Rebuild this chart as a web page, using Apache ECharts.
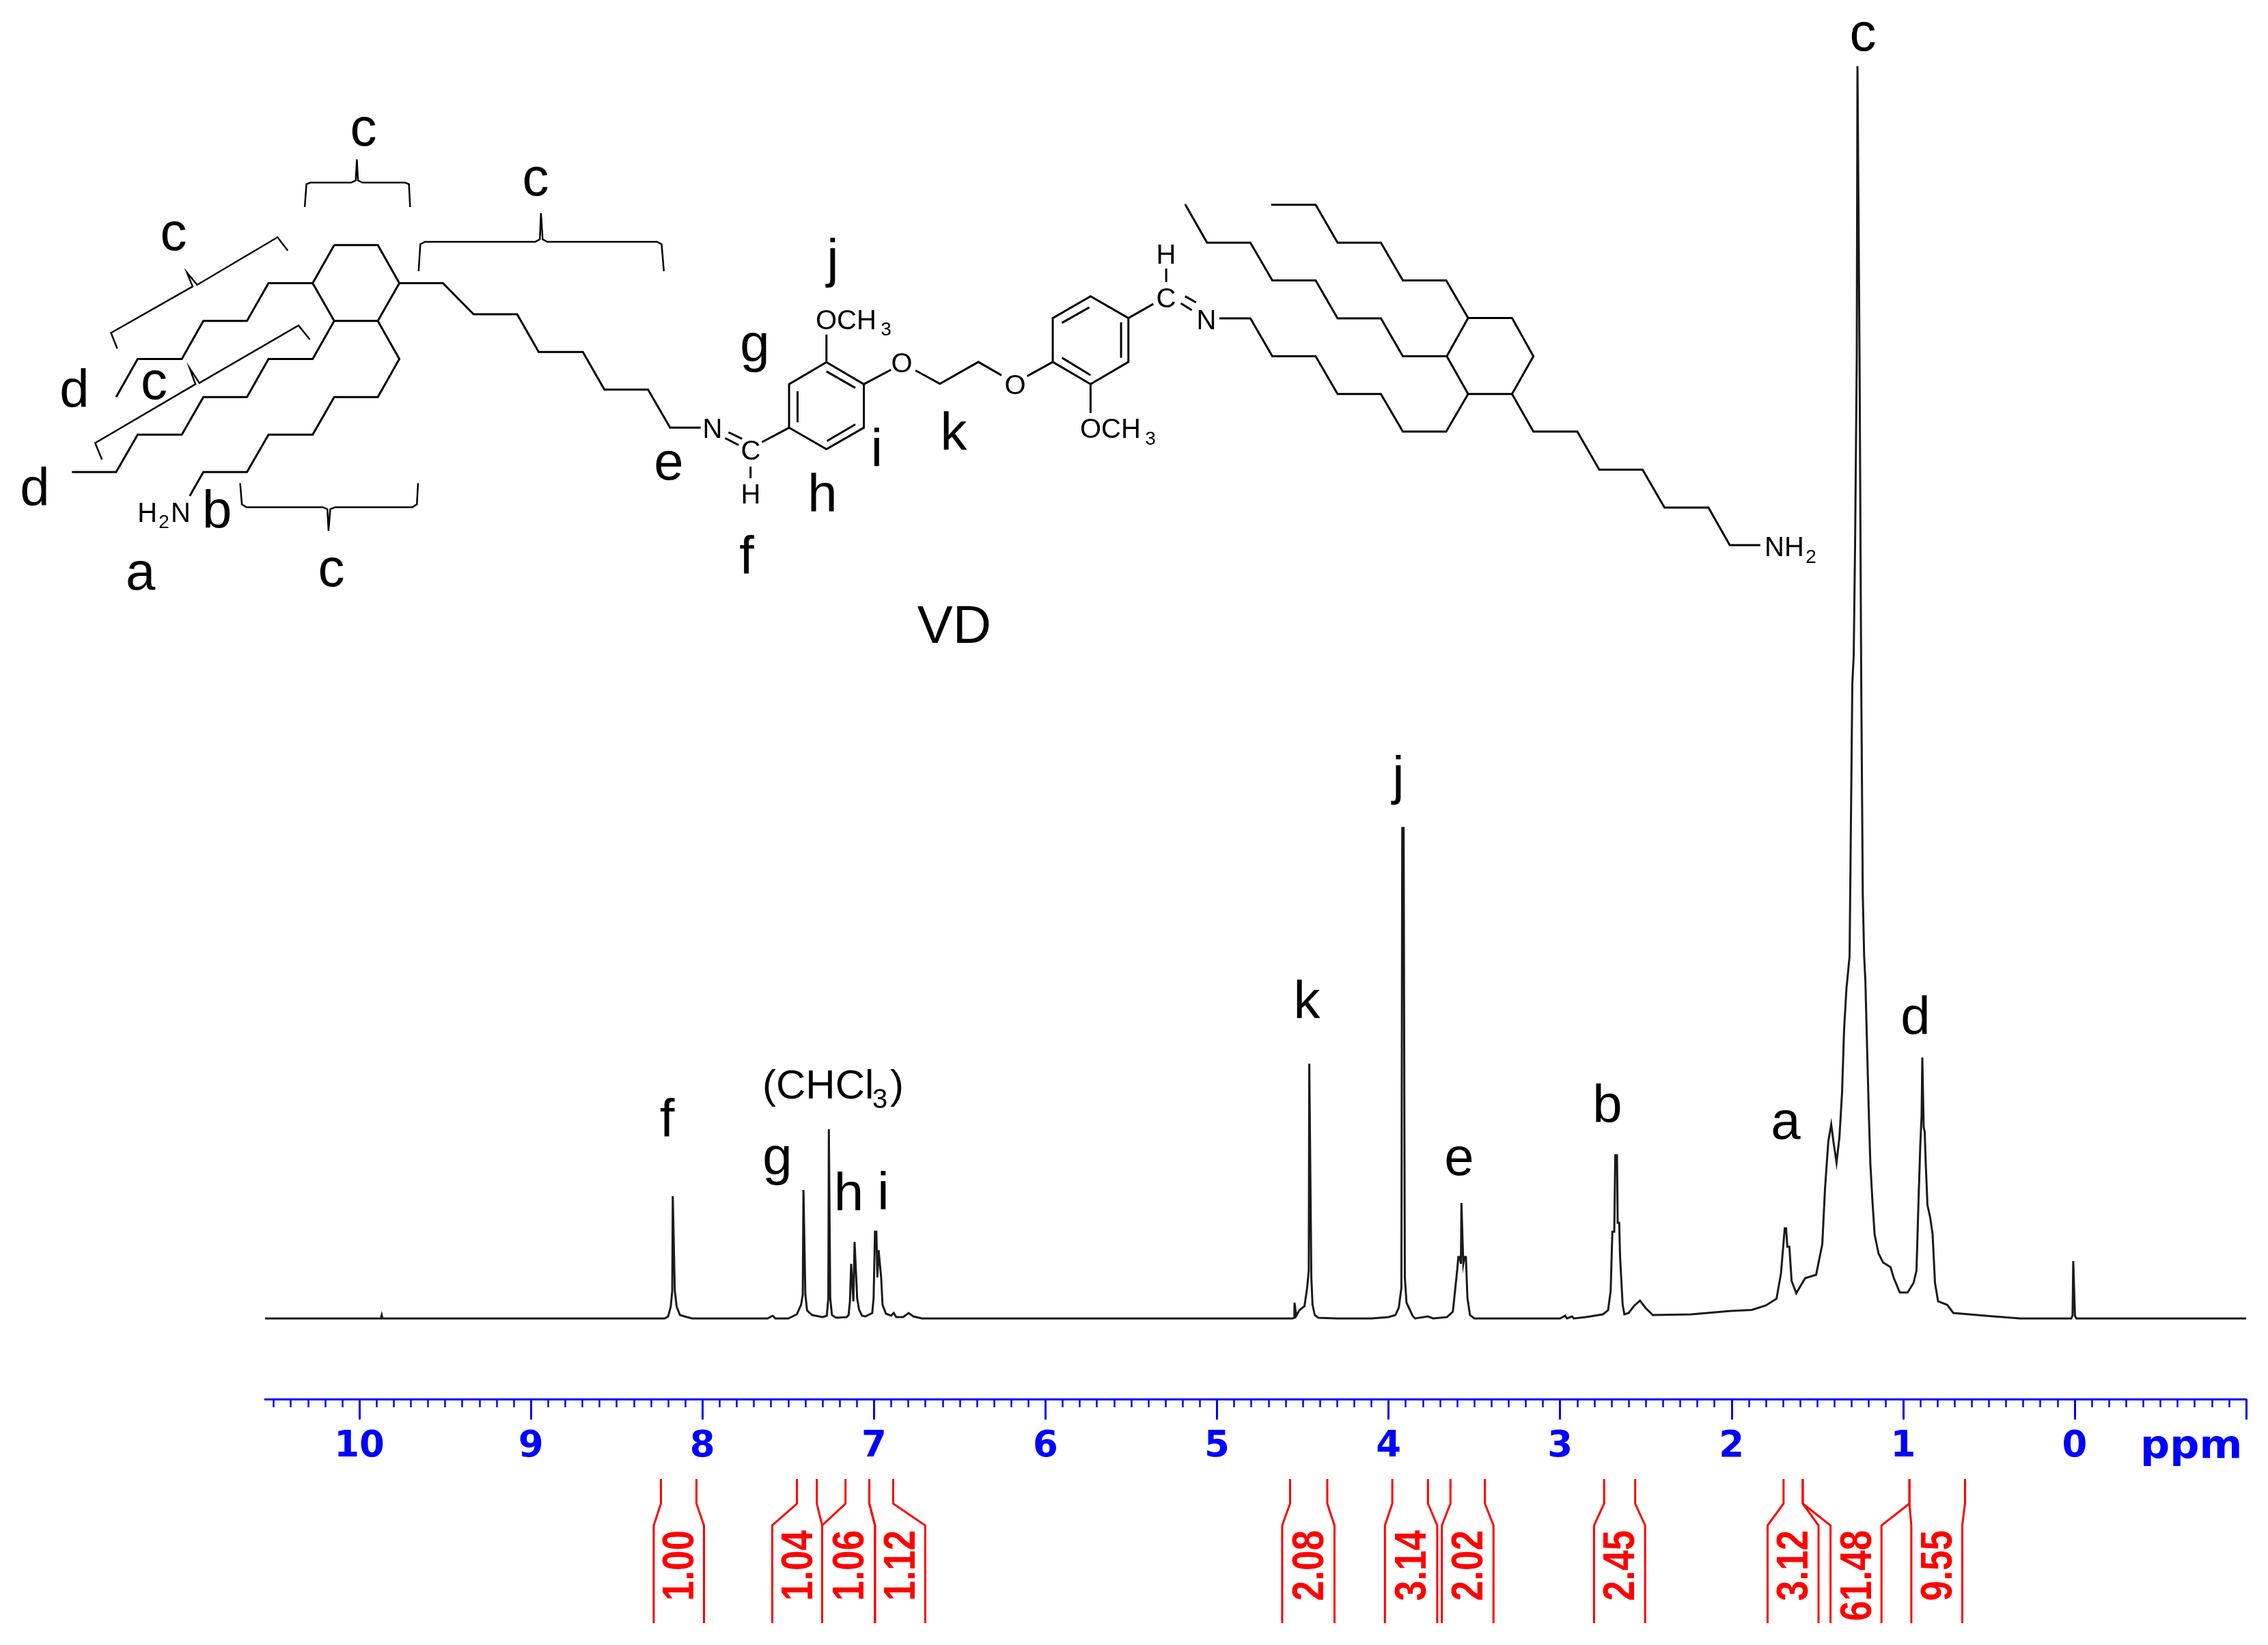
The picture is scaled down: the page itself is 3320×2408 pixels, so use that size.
<!doctype html>
<html>
    <head>
        <meta charset="utf-8">
        <style>
            html, body { margin: 0; background: #fff; }
            #main { width: 3320px; height: 2408px; }
        </style>
    </head>
    <body>
        <div id="main"></div>
        <script src="https://cdn.jsdelivr.net/npm/echarts@6/dist/echarts.min.js"></script>
        <script>
            // spectrum: [ppm, intensity], 1833 = top of peak c
            var aldehydeRegion = [[10.55, 0], [9.875, 0], [9.87, 5], [9.865, 0], [8.22, 0], [8.2, 3], [8.185, 17], [8.176, 40], [8.173, 179], [8.168, 179], [8.161, 40], [8.15, 17], [8.131, 5], [8.09, 2], [8.06, 0]];
            var aromaticRegion = [[7.62, 0], [7.59, 4], [7.575, 0], [7.5, 0], [7.45, 6], [7.425, 20], [7.415, 35], [7.411, 188], [7.405, 188], [7.4, 35], [7.39, 12], [7.375, 8], [7.36, 5], [7.3, 2], [7.275, 4], [7.266, 30], [7.263, 277], [7.259, 277], [7.255, 30], [7.245, 5], [7.22, 1], [7.16, 2], [7.148, 5], [7.14, 25], [7.133, 80], [7.126, 80], [7.12, 25], [7.113, 112], [7.106, 112], [7.098, 30], [7.087, 13], [7.07, 4], [7.05, 3], [7.01, 8], [7.002, 30], [6.994, 127], [6.986, 127], [6.98, 60], [6.973, 100], [6.966, 100], [6.958, 60], [6.95, 20], [6.93, 7], [6.9, 4], [6.885, 8], [6.87, 2], [6.83, 2], [6.798, 8], [6.77, 3], [6.72, 0]];
            var etherRegion = [[4.56, 0], [4.549, 1], [4.548, 23], [4.542, 23], [4.538, 4], [4.52, 12], [4.49, 18], [4.475, 44], [4.465, 70], [4.462, 373], [4.455, 373], [4.45, 60], [4.443, 20], [4.43, 5], [4.41, 1], [4.3, 0], [4.1, 0], [4.0, 2], [3.96, 5], [3.94, 16], [3.925, 45], [3.92, 718], [3.912, 718], [3.905, 60], [3.895, 23], [3.88, 15], [3.86, 4], [3.845, 0], [3.77, 3], [3.74, 0], [3.66, 2], [3.625, 10], [3.6, 70], [3.593, 90], [3.585, 90], [3.578, 80], [3.575, 169], [3.568, 169], [3.564, 80], [3.557, 90], [3.549, 90], [3.54, 30], [3.525, 5], [3.5, 0]];
            var amineRegion = [[3, 0], [2.97, 4], [2.96, 0], [2.93, 3], [2.92, 0], [2.85, 2], [2.75, 6], [2.72, 12], [2.705, 40], [2.695, 127], [2.684, 127], [2.678, 239], [2.668, 239], [2.664, 140], [2.655, 140], [2.65, 90], [2.643, 90], [2.635, 20], [2.625, 6], [2.6, 8], [2.57, 18], [2.534, 26], [2.5, 15], [2.459, 5], [2.236, 6], [2.005, 11], [1.882, 12.5], [1.8, 19], [1.738, 29]];
            var methyleneRegion = [[1.712, 66], [1.69, 132], [1.682, 132], [1.675, 105], [1.663, 105], [1.65, 55], [1.623, 37], [1.571, 59], [1.507, 64], [1.471, 109], [1.455, 191], [1.436, 259], [1.419, 284], [1.404, 255], [1.388, 228], [1.371, 266], [1.356, 330], [1.344, 423], [1.33, 484], [1.312, 530], [1.296, 930], [1.288, 970], [1.28, 1130], [1.27, 1410], [1.266, 1833], [1.259, 1833], [1.254, 1410], [1.244, 930], [1.235, 620], [1.227, 530], [1.22, 495], [1.209, 388], [1.2, 302], [1.191, 227], [1.179, 173], [1.166, 123], [1.143, 95], [1.117, 82], [1.073, 75], [1.054, 59], [1.019, 38], [0.974, 38], [0.939, 52], [0.922, 70]];
            var methylRegion = [[0.91, 173], [0.9, 252], [0.892, 298], [0.888, 382], [0.883, 382], [0.88, 280], [0.874, 273], [0.868, 227], [0.858, 166], [0.842, 148], [0.828, 123], [0.814, 52], [0.796, 25], [0.743, 20], [0.707, 8], [0.496, 3.5], [0.317, 0], [0.02, 0], [0.012, 4], [0.008, 84], [0.003, 84], [-0.002, 4], [-0.01, 0], [-1, 0]];

            var majorTicks = [-1, 0, 1, 2, 3, 4, 5, 6, 7, 8, 9, 10];
            var tickLabels = [0, 1, 2, 3, 4, 5, 6, 7, 8, 9, 10];
            var minorTicks = [];
            for (var t = -10; t <= 105; t++) {
                if (t % 10 !== 0) {
                    minorTicks.push(t / 10);
                }
            }

            // integration brackets: ppm of the two feet at the top and at the label
            var integralLabels = ['1.00', '1.04', '1.06', '1.12', '2.08', '3.14', '2.02', '2.45', '3.12', '61.48', '9.55'];
            var integralTops = [[8.242, 8.035], [7.449, 7.333], [7.166, 7.027], [7.027, 6.888], [4.574, 4.357], [3.978, 3.770], [3.639, 3.438], [2.743, 2.562], [1.697, 1.585], [1.585, 0.963], [0.963, 0.639]];
            var integralBottoms = [[8.284, 7.991], [7.593, 7.302], [7.302, 6.994], [6.994, 6.701], [4.620, 4.315], [4.021, 3.716], [3.689, 3.388], [2.802, 2.504], [1.790, 1.493], [1.423, 1.126], [0.952, 0.655]];

            var spectrum = [].concat(aldehydeRegion, aromaticRegion, etherRegion, amineRegion, methyleneRegion, methylRegion);

            var BLUE = '#0000ff';
            var RED = '#ff0000';
            var SANS = '"Liberation Sans", Arial, sans-serif';

            function left(pts) {
                return pts.map(function (p) { return [p[0] / 1.206, p[1] / 1.65]; });
            }
            function right(pts) {
                return pts.map(function (p) { return [1300 + p[0] / 1.12, 250 + p[1] / 2.412]; });
            }
            function stroke(points, width) {
                return {
                    type: 'polyline',
                    silent: true,
                    shape: { points: points },
                    style: { stroke: '#000', lineWidth: width || 3, fill: null, lineJoin: 'miter' }
                };
            }
            // x is the centre of the text (or its left edge with align), y its baseline
            function label(text, x, y, size, align) {
                return {
                    type: 'text',
                    silent: true,
                    x: x,
                    y: y - size * 0.29,
                    style: {
                        text: text,
                        fill: '#000',
                        fontFamily: SANS,
                        fontSize: size,
                        align: align || 'center',
                        verticalAlign: 'middle'
                    }
                };
            }

            var bonds = [
                left([[590, 592], [667, 592], [705, 684], [667, 775], [590, 775], [552, 684], [590, 592]]),
                left([[552, 684], [474, 684], [436, 775], [359, 775], [321, 867], [243, 867], [205, 959]]),
                left([[590, 775], [552, 867], [474, 867], [436, 959], [359, 959], [321, 1050], [243, 1050], [205, 1140], [127, 1140]]),
                left([[667, 775], [705, 867], [667, 959], [590, 959], [552, 1050], [474, 1050], [436, 1140], [359, 1140], [335, 1198]]),
                left([[705, 684], [782, 684], [836, 759], [913, 759], [951, 850], [1029, 850], [1067, 941], [1144, 941], [1183, 1033], [1237, 1033]]),
                left([[1286, 1044], [1310, 1060]]),
                left([[1280, 1058], [1304, 1075]]),
                left([[1325, 1127], [1325, 1155]]),
                left([[1345, 1068], [1393, 1033]]),
                left([[1393, 1033], [1393, 928], [1459, 875], [1525, 928], [1525, 1033], [1459, 1085], [1393, 1033]]),
                left([[1408, 1020], [1408, 945]]),
                left([[1459, 897], [1510, 937]]),
                left([[1510, 1025], [1460, 1065]]),
                left([[1459, 875], [1459, 808]]),
                left([[1525, 928], [1573, 893]]),
                right([[45, 705], [85, 752], [148, 675], [186, 722]]),
                right([[228, 725], [270, 675]]),
                right([[270, 675], [270, 520], [332, 443], [394, 520], [394, 675], [332, 753], [270, 675]]),
                right([[285, 537], [330, 482]]),
                right([[382, 535], [382, 660]]),
                right([[285, 660], [332, 722]]),
                right([[332, 753], [332, 855]]),
                right([[394, 520], [435, 470]]),
                right([[456, 345], [456, 393]]),
                right([[487, 443], [505, 465]]),
                right([[480, 468], [498, 492]]),
                right([[543, 521], [594, 521], [630, 655], [701, 655], [737, 788], [808, 788], [844, 921], [915, 921], [951, 788]]),
                right([[951, 520], [1023, 520], [1058, 655], [1023, 788], [951, 788], [916, 655], [951, 520]]),
                right([[951, 520], [915, 387], [844, 387], [808, 254], [737, 254], [701, 120], [628, 120]]),
                right([[916, 655], [844, 655], [808, 521], [737, 521], [701, 387], [630, 387], [594, 254], [523, 254], [487, 118]]),
                right([[1023, 788], [1058, 921], [1130, 921], [1166, 1055], [1237, 1055], [1273, 1189], [1345, 1189], [1380, 1322], [1430, 1322]])
            ];
            var braces = [
                left([[538, 500], [541, 445], [548, 441], [620, 441], [628, 436], [630, 385], [632, 436], [640, 441], [715, 441], [722, 445], [724, 500]]),
                left([[739, 655], [742, 590], [750, 584], [945, 584], [953, 578], [955, 515], [958, 578], [966, 584], [1160, 584], [1168, 590], [1172, 655]]),
                left([[207, 842], [196, 804], [340, 692], [330, 658], [348, 688], [490, 573], [508, 605]]),
                left([[180, 1110], [168, 1070], [345, 928], [335, 890], [352, 925], [527, 786], [547, 820]]),
                left([[424, 1167], [427, 1218], [435, 1225], [570, 1225], [578, 1230], [580, 1282], [583, 1230], [592, 1225], [728, 1225], [736, 1218], [738, 1167]])
            ];

            var graphics = bonds.map(function (b) { return stroke(b, 3); })
                .concat(braces.map(function (b) { return stroke(b, 2.5); }));

            // letters on the structure and above the peaks
            var LETTER = 78;
            [
                ['c', 532, 214], ['c', 784, 287], ['c', 254, 367], ['d', 109, 597], ['c', 225.5, 585],
                ['d', 51, 741], ['b', 317.6, 774], ['a', 205.6, 864], ['c', 485, 859], ['e', 979, 703],
                ['f', 1093, 841], ['j', 1219, 406], ['g', 1105, 530], ['h', 1204, 750], ['i', 1283.5, 684],
                ['k', 1396, 660], ['VD', 1397, 942],
                ['c', 2727, 75], ['j', 2047, 1163], ['k', 1913, 1492], ['e', 2136, 1721], ['b', 2353, 1644],
                ['a', 2614, 1668], ['d', 2804, 1515], ['f', 976.5, 1665], ['g', 1138, 1720], ['h', 1242.5, 1773], ['i', 1293, 1772]
            ].forEach(function (l) {
                graphics.push(label(l[0], l[1], l[2], LETTER));
            });
            graphics.push(label('(CHCl', 1116, 1609, 60, 'left'));
            graphics.push(label('3', 1288, 1623, 40));
            graphics.push(label(')', 1313, 1609, 60));

            // atoms
            [
                ['N', 1043, 642], ['C', 1099, 674], ['H', 1099, 738], ['O', 1320, 546], ['O', 1486, 577.5],
                ['C', 1707, 451], ['H', 1707, 387], ['N', 1766, 483], ['H', 215.6, 765], ['N', 264.5, 765]
            ].forEach(function (a) {
                graphics.push(label(a[0], a[1], a[2], 40));
            });
            graphics.push(label('2', 240, 773, 28));
            graphics.push(label('OCH', 1194, 483, 40, 'left'));
            graphics.push(label('3', 1297, 491, 28));
            graphics.push(label('OCH', 1581, 642, 40, 'left'));
            graphics.push(label('3', 1684, 651, 28));
            graphics.push(label('NH', 2583, 815, 40, 'left'));
            graphics.push(label('2', 2651, 824, 28));

            // unit next to the axis
            graphics.push({
                type: 'text',
                silent: true,
                x: 3133,
                y: 2119,
                scaleX: 1.06,
                style: {
                    text: 'ppm',
                    fill: BLUE,
                    fontFamily: '"DejaVu Sans"',
                    fontWeight: 'bold',
                    fontSize: 57,
                    align: 'left',
                    verticalAlign: 'middle'
                }
            });

            function renderIntegral(params, api) {
                var i = params.dataIndex;
                var TOP = 2165, BEND1 = 2201, BEND2 = 2233, BOTTOM = 2376;
                var a = api.coord([integralTops[i][0], 0])[0];
                var b = api.coord([integralTops[i][1], 0])[0];
                var c = api.coord([integralBottoms[i][0], 0])[0];
                var d = api.coord([integralBottoms[i][1], 0])[0];
                var lineStyle = { stroke: RED, lineWidth: 3, fill: null };
                return {
                    type: 'group',
                    children: [{
                        type: 'polyline',
                        shape: { points: [[a, TOP], [a, BEND1], [c, BEND2], [c, BOTTOM]] },
                        style: lineStyle
                    }, {
                        type: 'polyline',
                        shape: { points: [[b, TOP], [b, BEND1], [d, BEND2], [d, BOTTOM]] },
                        style: lineStyle
                    }, {
                        type: 'text',
                        x: (c + d) / 2 + 4,
                        y: 2240,
                        rotation: Math.PI / 2,
                        scaleX: 0.83,
                        style: {
                            text: integralLabels[i],
                            fill: RED,
                            fontFamily: SANS,
                            fontWeight: 'bold',
                            fontSize: 64,
                            align: 'right',
                            verticalAlign: 'middle'
                        }
                    }]
                };
            }

            var chart = echarts.init(document.getElementById('main'));
            chart.setOption({
                animation: false,
                backgroundColor: '#fff',
                grid: { left: 388, right: 32, top: 97, height: 1833 },
                xAxis: [{
                    type: 'value',
                    inverse: true,
                    min: -1,
                    max: 10.55,
                    position: 'bottom',
                    offset: 118,
                    splitLine: { show: false },
                    axisLine: { show: true, onZero: false, lineStyle: { color: BLUE, width: 3 } },
                    axisTick: { show: true, customValues: majorTicks, length: 30, lineStyle: { color: BLUE, width: 3 } },
                    axisLabel: {
                        show: true,
                        customValues: tickLabels,
                        margin: 44,
                        color: BLUE,
                        fontFamily: '"DejaVu Sans"',
                        fontWeight: 'bold',
                        fontSize: 53
                    }
                }, {
                    type: 'value',
                    inverse: true,
                    min: -1,
                    max: 10.55,
                    position: 'bottom',
                    offset: 118,
                    splitLine: { show: false },
                    axisLine: { show: false, onZero: false },
                    axisTick: { show: true, customValues: minorTicks, length: 12, lineStyle: { color: BLUE, width: 2.5 } },
                    axisLabel: { show: false }
                }],
                yAxis: { type: 'value', min: 0, max: 1833, show: false },
                graphic: { elements: graphics },
                series: [{
                    type: 'line',
                    data: spectrum,
                    showSymbol: false,
                    sampling: false,
                    clip: false,
                    silent: true,
                    lineStyle: { color: '#1a1a1a', width: 3, join: 'miter' }
                }, {
                    type: 'custom',
                    data: integralTops.map(function (r) { return [r[0], 0]; }),
                    encode: { x: 0, y: 1 },
                    clip: false,
                    silent: true,
                    renderItem: renderIntegral
                }]
            });

            window.onresize = chart.resize;
        </script>
    </body>
</html>
